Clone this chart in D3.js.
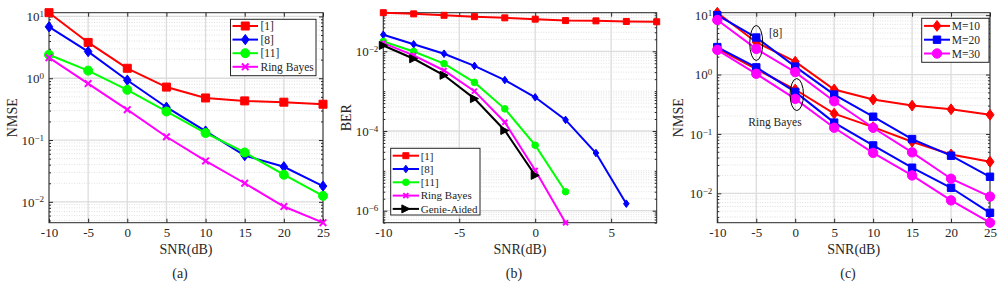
<!DOCTYPE html>
<html>
<head>
<meta charset="utf-8">
<script src="https://cdn.jsdelivr.net/npm/d3@7"></script>
<style>
body { margin: 0; background: #fff; }
svg text { font-family: "Liberation Serif", "DejaVu Serif", serif; fill: #262626; }
</style>
</head>
<body>
<div id="chart"></div>
<script>
// ---- data ----
var snrA = [-10, -5, 0, 5, 10, 15, 20, 25];
var nmseA_ref1 = [11.5, 3.8, 1.45, 0.72, 0.48, 0.43, 0.41, 0.38];
var nmseA_ref8 = [6.8, 2.7, 0.93, 0.34, 0.14, 0.056, 0.037, 0.018];
var nmseA_ref11 = [2.4, 1.33, 0.65, 0.29, 0.13, 0.063, 0.0275, 0.0125];
var nmseA_ring = [2.15, 0.82, 0.31, 0.113, 0.046, 0.020, 0.0084, 0.0046];

var snrB = [-10, -8, -6, -4, -2, 0, 2, 4, 6, 8];
var berB_ref1 = [0.093, 0.087, 0.080, 0.074, 0.069, 0.064, 0.059, 0.058, 0.056, 0.055];
var berB_ref8 = [0.026, 0.015, 0.0087, 0.0043, 0.0019, 7.0e-4, 1.9e-4, 2.8e-5, 1.5e-6];
var berB_ref11 = [0.0176, 0.0099, 0.0049, 0.00166, 3.6e-4, 4.4e-5, 3.0e-6];
var berB_ring = [0.016, 0.0079, 0.0033, 0.0010, 1.66e-4, 1.03e-5, 5.0e-7];
var berB_genie = [0.014, 0.0065, 0.0025, 6.5e-4, 1.03e-4, 7.7e-6];

var snrC = [-10, -5, 0, 5, 10, 15, 20, 25];
var nmseC_ref8_m10 = [11.0, 3.5, 1.65, 0.56, 0.38, 0.30, 0.26, 0.21];
var nmseC_ref8_m20 = [10.0, 4.2, 1.36, 0.46, 0.195, 0.082, 0.043, 0.019];
var nmseC_ref8_m30 = [8.3, 2.7, 1.1, 0.355, 0.127, 0.049, 0.0176, 0.0088];
var nmseC_ring_m10 = [2.75, 1.24, 0.56, 0.22, 0.13, 0.074, 0.045, 0.034];
var nmseC_ring_m20 = [2.9, 1.32, 0.51, 0.155, 0.064, 0.027, 0.0124, 0.0047];
var nmseC_ring_m30 = [2.6, 1.03, 0.39, 0.127, 0.048, 0.020, 0.0076, 0.0032];

var xTicksA = [-10, -5, 0, 5, 10, 15, 20, 25];
var xTicksB = [-10, -5, 0, 5];
var legendA = ["[1]", "[8]", "[11]", "Ring Bayes"];
var legendB = ["[1]", "[8]", "[11]", "Ring Bayes", "Genie-Aided"];
var legendC = ["M=10", "M=20", "M=30"];
var captions = ["(a)", "(b)", "(c)"];

var RED = "#ff0000", BLUE = "#0000ff", GREEN = "#00ff00", MAG = "#ff00ff", BLACK = "#000000";

var svg = d3.select("#chart").append("svg")
    .attr("width", 1002)
    .attr("height", 287);

function zip(xs, ys) {
    return ys.map(function (v, i) { return [xs[i], v]; });
}

// marker shapes, centred on 0,0
function markerPath(type, s) {
    if (type === "square") return "M" + (-s) + "," + (-s) + "h" + 2 * s + "v" + 2 * s + "h" + (-2 * s) + "Z";
    if (type === "diamond") return "M0," + (-s * 1.35) + "L" + s + ",0L0," + (s * 1.35) + "L" + (-s) + ",0Z";
    if (type === "circle") return "M" + s + ",0A" + s + "," + s + " 0 1,1 " + (-s) + ",0A" + s + "," + s + " 0 1,1 " + s + ",0Z";
    if (type === "x") return "M" + (-s) + "," + (-s) + "L" + s + "," + s + "M" + (-s) + "," + s + "L" + s + "," + (-s);
    if (type === "tri") return "M" + (-s) + "," + (-s) + "L" + s + ",0L" + (-s) + "," + s + "Z";
}

function addMarker(g, s, px, py) {
    g.append("path")
        .attr("d", markerPath(s.marker, s.size))
        .attr("transform", "translate(" + px + "," + py + ")")
        .attr("fill", s.marker === "x" ? "none" : s.color)
        .attr("stroke", s.color)
        .attr("stroke-width", s.marker === "x" ? 2 : 1);
}

function drawPanel(p) {
    var g = svg.append("g");
    var allY = [];
    p.series.forEach(function (s) { allY = allY.concat(s.y); });

    var x = d3.scaleLinear().domain(p.xDomain).range([p.left, p.right]);
    var y = d3.scaleLog().domain(d3.extent(allY)).range([p.bottom, p.top]);
    var dom = y.domain();
    var step = p.decadeStep || 1;

    // labelled decades are majors; everything else (incl. skipped decades) is minor
    var majors = [], minors = [];
    var lo = Math.floor(Math.log10(dom[0])), hi = Math.ceil(Math.log10(dom[1]));
    for (var k = lo; k <= hi; k++) {
        for (var m = 1; m <= 9; m++) {
            var v = m * Math.pow(10, k);
            if (v < dom[0] || v > dom[1]) continue;
            if (m === 1 && k % step === 0) majors.push(v);
            else minors.push(v);
        }
    }

    // grid
    g.selectAll(".minor").data(minors).enter().append("line")
        .attr("x1", p.left).attr("x2", p.right)
        .attr("y1", function (d) { return y(d); }).attr("y2", function (d) { return y(d); })
        .attr("stroke", "#e0e0e0").attr("stroke-width", 1).attr("stroke-dasharray", "1,1.5");
    g.selectAll(".major").data(majors).enter().append("line")
        .attr("x1", p.left).attr("x2", p.right)
        .attr("y1", function (d) { return y(d); }).attr("y2", function (d) { return y(d); })
        .attr("stroke", "#dcdcdc").attr("stroke-width", 1.3);
    g.selectAll(".vgrid").data(p.xTicks).enter().append("line")
        .attr("x1", function (d) { return x(d); }).attr("x2", function (d) { return x(d); })
        .attr("y1", p.top).attr("y2", p.bottom)
        .attr("stroke", "#dcdcdc").attr("stroke-width", 1.3);

    // axes (inward ticks on all four sides)
    var xb = g.append("g").attr("transform", "translate(0," + p.bottom + ")")
        .call(d3.axisBottom(x).tickValues(p.xTicks).tickSize(-4).tickPadding(5)
            .tickFormat(function (d) { return d < 0 ? "-" + Math.abs(d) : d; }));
    g.append("g").attr("transform", "translate(0," + p.top + ")")
        .call(d3.axisTop(x).tickValues(p.xTicks).tickSize(-4).tickFormat(""));
    var yl = g.append("g").attr("transform", "translate(" + p.left + ",0)")
        .call(d3.axisLeft(y).tickValues(majors).tickSize(-4).tickPadding(5).tickFormat(""));
    g.append("g").attr("transform", "translate(" + p.right + ",0)")
        .call(d3.axisRight(y).tickValues(majors).tickSize(-4).tickFormat(""));
    g.append("g").attr("transform", "translate(" + p.left + ",0)")
        .call(d3.axisLeft(y).tickValues(minors).tickSize(-2).tickFormat(""));
    g.append("g").attr("transform", "translate(" + p.right + ",0)")
        .call(d3.axisRight(y).tickValues(minors).tickSize(-2).tickFormat(""));
    g.selectAll(".domain").remove();
    g.selectAll(".tick line").attr("stroke", "#262626");
    xb.selectAll("text").attr("font-size", 13).attr("font-family", null).attr("fill", "#262626");

    // y tick labels as 10^k
    yl.selectAll(".tick").each(function (d) {
        var t = d3.select(this).select("text")
            .attr("font-size", 13).attr("font-family", null).attr("fill", "#262626");
        t.text("");
        t.append("tspan").text("10");
        var e = Math.round(Math.log10(d));
        t.append("tspan").attr("dy", "-0.45em").attr("font-size", 9)
            .text(e < 0 ? "\u2212" + Math.abs(e) : e);
    });

    g.append("rect")
        .attr("x", p.left).attr("y", p.top)
        .attr("width", p.right - p.left).attr("height", p.bottom - p.top)
        .attr("fill", "none").attr("stroke", "#262626").attr("stroke-width", 1);

    // series
    var line = d3.line()
        .x(function (d) { return x(d[0]); })
        .y(function (d) { return y(d[1]); });
    p.series.forEach(function (s) {
        var pts = zip(s.x, s.y);
        g.append("path").datum(pts)
            .attr("d", line)
            .attr("fill", "none")
            .attr("stroke", s.color)
            .attr("stroke-width", 2);
        pts.forEach(function (d) { addMarker(g, s, x(d[0]), y(d[1])); });
    });

    // annotations
    (p.notes || []).forEach(function (n) {
        if (n.type === "ellipse") {
            g.append("ellipse")
                .attr("cx", x(n.x)).attr("cy", y(n.y))
                .attr("rx", n.rx).attr("ry", n.ry)
                .attr("fill", "none").attr("stroke", "#000").attr("stroke-width", 1);
        } else {
            g.append("text")
                .attr("x", x(n.x)).attr("y", y(n.y))
                .attr("dy", "0.35em")
                .attr("text-anchor", "middle")
                .attr("font-size", 11.5)
                .text(n.text);
        }
    });

    // legend
    var L = p.legend;
    g.append("rect")
        .attr("x", L.x0).attr("y", L.y0)
        .attr("width", L.x1 - L.x0).attr("height", L.y1 - L.y0)
        .attr("fill", "#fff").attr("stroke", "#262626").attr("stroke-width", 1);
    p.series.filter(function (s) { return s.name; }).forEach(function (s, i) {
        var ry = L.row0 + i * L.step;
        g.append("line")
            .attr("x1", L.lx0).attr("x2", L.lx1)
            .attr("y1", ry).attr("y2", ry)
            .attr("stroke", s.color).attr("stroke-width", 2);
        addMarker(g, s, (L.lx0 + L.lx1) / 2, ry);
        g.append("text")
            .attr("x", L.tx).attr("y", ry)
            .attr("dy", "0.35em")
            .attr("font-size", L.font || 11.5)
            .text(s.name);
    });

    // labels
    g.append("text")
        .attr("x", (p.left + p.right) / 2).attr("y", 254)
        .attr("text-anchor", "middle").attr("font-size", 14)
        .text("SNR(dB)");
    g.append("text")
        .attr("transform", "translate(" + p.yLabelX + "," + (p.top + p.bottom) / 2 + ") rotate(-90)")
        .attr("dy", "0.35em")
        .attr("text-anchor", "middle").attr("font-size", 14)
        .text(p.yLabel);
    g.append("text")
        .attr("x", p.captionX).attr("y", 278)
        .attr("text-anchor", "middle").attr("font-size", 14)
        .text(p.caption);
}

drawPanel({
    left: 49, right: 323, top: 12.7, bottom: 222.7,
    xDomain: [-10, 25], xTicks: xTicksA,
    yLabel: "NMSE", yLabelX: 12, caption: captions[0], captionX: 180,
    series: [
        { x: snrA, y: nmseA_ref1, color: RED, marker: "square", size: 4, name: legendA[0] },
        { x: snrA, y: nmseA_ref8, color: BLUE, marker: "diamond", size: 3.8, name: legendA[1] },
        { x: snrA, y: nmseA_ref11, color: GREEN, marker: "circle", size: 4.5, name: legendA[2] },
        { x: snrA, y: nmseA_ring, color: MAG, marker: "x", size: 3.3, name: legendA[3] }
    ],
    legend: { x0: 230.5, x1: 316, y0: 19.3, y1: 75.7, row0: 26, step: 13.6, lx0: 232.5, lx1: 258, tx: 260.5 }
});

drawPanel({
    left: 383.3, right: 656.7, top: 12.7, bottom: 222.7,
    xDomain: [-10, 8], xTicks: xTicksB, decadeStep: 2,
    yLabel: "BER", yLabelX: 346, caption: captions[1], captionX: 514,
    series: [
        { x: snrB, y: berB_ref1, color: RED, marker: "square", size: 3, name: legendB[0] },
        { x: snrB, y: berB_ref8, color: BLUE, marker: "diamond", size: 2.8, name: legendB[1] },
        { x: snrB, y: berB_ref11, color: GREEN, marker: "circle", size: 3.3, name: legendB[2] },
        { x: snrB, y: berB_ring, color: MAG, marker: "x", size: 2.5, name: legendB[3] },
        { x: snrB, y: berB_genie, color: BLACK, marker: "tri", size: 4, name: legendB[4] }
    ],
    legend: { x0: 390.7, x1: 480, y0: 148.3, y1: 215, row0: 155.7, step: 13.3, lx0: 392.7, lx1: 419, tx: 420.7, font: 11 }
});

drawPanel({
    left: 717.3, right: 990, top: 12.7, bottom: 222.7,
    xDomain: [-10, 25], xTicks: xTicksA,
    yLabel: "NMSE", yLabelX: 678, caption: captions[2], captionX: 848,
    series: [
        { x: snrC, y: nmseC_ref8_m10, color: RED, marker: "diamond", size: 4, name: legendC[0] },
        { x: snrC, y: nmseC_ring_m10, color: RED, marker: "diamond", size: 4 },
        { x: snrC, y: nmseC_ref8_m20, color: BLUE, marker: "square", size: 3.7, name: legendC[1] },
        { x: snrC, y: nmseC_ring_m20, color: BLUE, marker: "square", size: 3.7 },
        { x: snrC, y: nmseC_ref8_m30, color: MAG, marker: "circle", size: 4.7, name: legendC[2] },
        { x: snrC, y: nmseC_ring_m30, color: MAG, marker: "circle", size: 4.7 }
    ],
    notes: [
        { type: "ellipse", x: -5, y: 3.4, rx: 6.5, ry: 17.5 },
        { type: "ellipse", x: 0.2, y: 0.46, rx: 6.7, ry: 16 },
        { type: "text", x: -2.5, y: 5.1, text: "[8]" },
        { type: "text", x: -2.6, y: 0.156, text: "Ring Bayes" }
    ],
    legend: { x0: 921.7, x1: 989, y0: 18.3, y1: 62.3, row0: 25.9, step: 13.8, lx0: 924, lx1: 950, tx: 951.7 }
});
</script>
</body>
</html>
